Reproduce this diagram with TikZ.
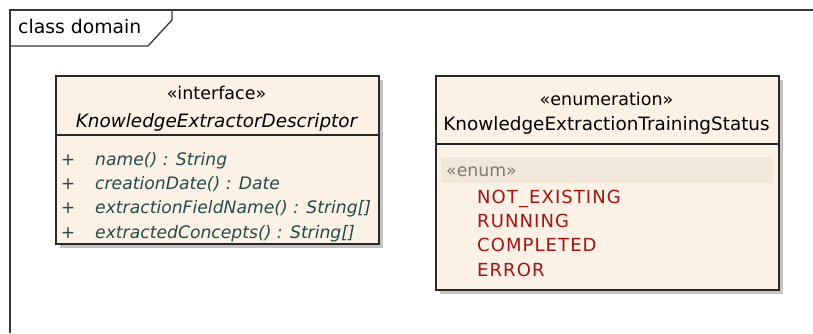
\documentclass[tikz,border=0pt]{standalone}
\usepackage{fontspec}
\setmainfont{DejaVu Sans}
\definecolor{boxfill}{RGB}{251,241,228}
\definecolor{boxline}{RGB}{40,40,40}
\definecolor{shade}{RGB}{195,195,195}
\definecolor{opcol}{RGB}{35,75,75}
\definecolor{enumcol}{RGB}{165,20,20}
\definecolor{bandfill}{RGB}{241,232,218}
\definecolor{bandtext}{RGB}{130,120,112}
\definecolor{framecol}{RGB}{55,55,55}
\begin{document}
\begin{tikzpicture}[x=1pt,y=-1pt,
  classbox/.style={draw=boxline,line width=1.6pt,fill=boxfill,anchor=north west,inner sep=0pt},
  shadowbox/.style={fill=shade,anchor=north west,inner sep=0pt,draw=none},
  stereo/.style={font=\fontsize{17.5}{20}\selectfont,anchor=mid,inner sep=0pt},
  cname/.style={font=\fontsize{18.4}{20}\selectfont,anchor=mid,inner sep=0pt},
  optext/.style={font=\fontsize{17.2}{20}\selectfont\itshape,text=opcol,anchor=mid west,inner sep=0pt},
  opplus/.style={font=\fontsize{17.2}{20}\selectfont,text=opcol,anchor=mid,inner sep=0pt},
  lit/.style={font=\fontsize{18}{20}\selectfont\addfontfeature{LetterSpace=6},text=enumcol,anchor=mid west,inner sep=0pt},
  frameline/.style={draw=framecol,line width=1.3pt}]
\useasboundingbox (0,0) rectangle (813,333);
\fill[white] (0,0) rectangle (813,333);

% frame
\coordinate (fbl) at (10,333);
\coordinate (ftl) at (10,10);
\coordinate (ftr) at (813,10);
\coordinate (tabb) at (10,46);
\coordinate (tabc) at (148,46);
\coordinate (tabd) at (172,20);
\coordinate (tabe) at (172,10);
\draw[frameline] (fbl) -- (ftl) -- (ftr);
\draw[frameline] (tabb) -- (tabc) -- (tabd) -- (tabe);
\node[font=\fontsize{18.8}{20}\selectfont,anchor=mid west,inner sep=0pt] (ftitle) at (18,31) {class domain};

% interface box
\node[shadowbox,minimum width=323pt,minimum height=168pt] (ishadow) at (60,80) {};
\node[classbox,minimum width=323pt,minimum height=168pt] (ibox) at (55,75) {};
\coordinate (idl) at (55,135);
\coordinate (idr) at (378,135);
\draw[draw=boxline,line width=1.3pt] (idl) -- (idr);
\node[stereo] (istereo) at (216.5,97) {«interface»};
\node[cname,font=\fontsize{18.4}{20}\selectfont\itshape] (iname) at (216.5,125) {KnowledgeExtractorDescriptor};
\node[opplus] (p1) at (68,163) {+};
\node[opplus] (p2) at (68,187) {+};
\node[opplus] (p3) at (68,211) {+};
\node[opplus] (p4) at (68,236) {+};
\node[optext] (o1) at (95,163) {name() : String};
\node[optext] (o2) at (95,187) {creationDate() : Date};
\node[optext] (o3) at (95,211) {extractionFieldName() : String[]};
\node[optext] (o4) at (95,236) {extractedConcepts() : String[]};

% enumeration box
\node[shadowbox,minimum width=343pt,minimum height=214pt] (eshadow) at (440,80) {};
\node[classbox,minimum width=343pt,minimum height=214pt] (ebox) at (435,75) {};
\coordinate (edl) at (435,144);
\coordinate (edr) at (778,144);
\draw[draw=boxline,line width=1.3pt] (edl) -- (edr);
\node[stereo] (estereo) at (606.5,103) {«enumeration»};
\node[cname] (ename) at (606.5,128) {KnowledgeExtractionTrainingStatus};
\node[fill=bandfill,anchor=north west,inner sep=0pt,minimum width=332pt,minimum height=26pt] (band) at (441,157) {};
\node[font=\fontsize{17.3}{20}\selectfont,text=bandtext,anchor=mid west,inner sep=0pt] (enumst) at (446,174) {«enum»};
\node[lit] (l1) at (477,201) {NOT\_EXISTING};
\node[lit] (l2) at (477,225) {RUNNING};
\node[lit] (l3) at (477,249) {COMPLETED};
\node[lit] (l4) at (477,274) {ERROR};
\end{tikzpicture}
\end{document}
